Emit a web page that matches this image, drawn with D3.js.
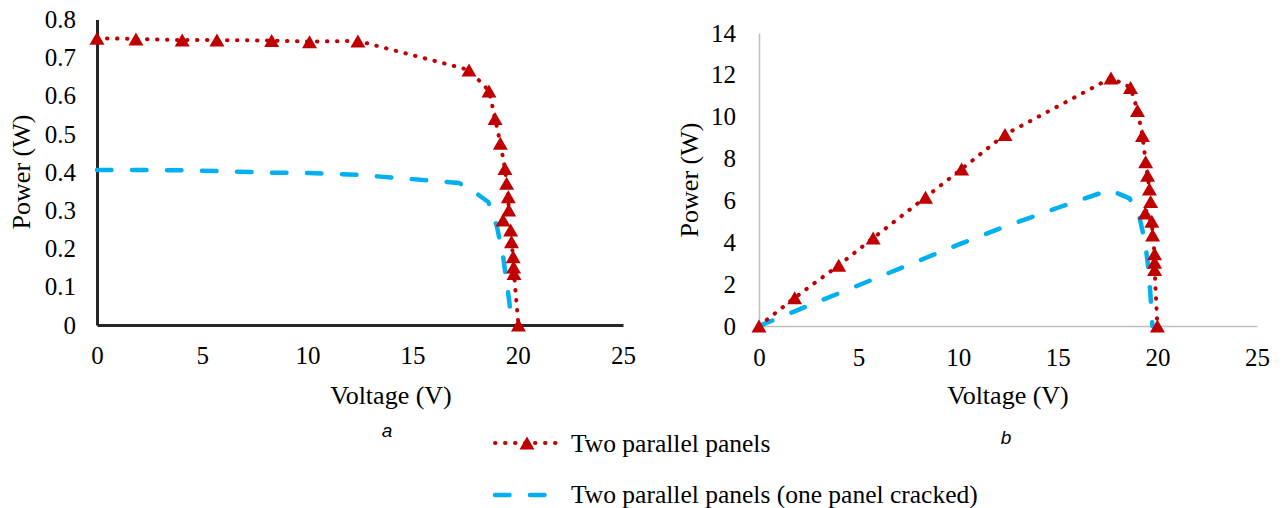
<!DOCTYPE html>
<html>
<head>
<meta charset="utf-8">
<script src="https://cdn.jsdelivr.net/npm/d3@7"></script>
<style>
  body { margin: 0; background: #fff; }
  svg text { font-family: "Liberation Serif", Tinos, "Times New Roman", Times, "DejaVu Serif", serif; fill: #000; }
</style>
</head>
<body>
<svg id="chart" width="1288" height="508"></svg>
<script>
// chart a : small power values
var voltA = [0, 1.85, 4.05, 5.7, 8.3, 10.1, 12.4, 17.68, 18.63, 18.92, 19.17, 19.39, 19.47, 19.55, 19.57, 19.3, 19.66, 19.7, 19.78, 19.8, 19.82, 20.03]
var powA = [0.751, 0.749, 0.746, 0.746, 0.745, 0.742, 0.744, 0.668, 0.613, 0.541, 0.476, 0.41, 0.371, 0.336, 0.301, 0.275, 0.249, 0.218, 0.179, 0.152, 0.135, 0]
var voltACracked = [0, 1.85, 4.05, 5.7, 8.3, 10.1, 12.4, 15.0, 17.2, 17.9, 18.6, 19.0, 19.3, 19.45, 19.6, 19.7]
var powACracked = [0.406, 0.406, 0.405, 0.403, 0.399, 0.398, 0.393, 0.382, 0.372, 0.35, 0.322, 0.26, 0.18, 0.12, 0.06, 0]

// chart b
var voltB = [0, 1.79, 4.0, 5.73, 8.36, 10.17, 12.35, 17.67, 18.65, 19.0, 19.25, 19.41, 19.51, 19.6, 19.66, 19.39, 19.72, 19.76, 19.86, 19.86, 19.86, 20.0]
var powB = [0, 1.35, 2.9, 4.2, 6.15, 7.5, 9.15, 11.85, 11.4, 10.3, 9.1, 7.85, 7.2, 6.55, 5.95, 5.4, 5.0, 4.35, 3.45, 3.05, 2.7, 0]
var voltBCracked = [0, 1.79, 4.0, 5.73, 8.36, 10.17, 12.35, 15.0, 17.6, 18.6, 19.1, 19.4, 19.55, 19.65, 19.75]
var powBCracked = [0, 0.7, 1.56, 2.23, 3.25, 3.95, 4.75, 5.65, 6.5, 6.1, 5.2, 3.9, 2.7, 1.5, 0]

var xTicks = [0, 5, 10, 15, 20, 25]
var yTicksA = [0, 0.1, 0.2, 0.3, 0.4, 0.5, 0.6, 0.7, 0.8]
var yTicksB = [0, 2, 4, 6, 8, 10, 12, 14]

var seriesNames = ["Two parallel panels", "Two parallel panels (one panel cracked)"]

var red = "#c00000", blue = "#00b0f0"
var triangle = "M0,-6.5L7.5,6.5L-7.5,6.5Z"
var serif = "'Liberation Serif', Tinos, 'Times New Roman', Times, 'DejaVu Serif', serif"

var svg = d3.select("#chart")

function zip(xs, ys) {
  return xs.map(function(x, i) { return {v: x, p: ys[i]} })
}

// draw one panel
function drawPanel(opts) {
  var xScale = d3.scaleLinear().domain([0, 25]).range(opts.xRange)
  var yScale = d3.scaleLinear().domain(opts.yDomain).range(opts.yRange)

  var xAxis = svg.append("g")
    .attr("transform", "translate(0," + opts.yRange[0] + ")")
    .call(d3.axisBottom(xScale).tickValues(xTicks).tickSize(0).tickPadding(opts.padX))
  var yAxis = svg.append("g")
    .attr("transform", "translate(" + opts.xRange[0] + ",0)")
    .call(d3.axisLeft(yScale).tickValues(opts.yTicks).tickSize(0).tickPadding(opts.padY)
      .tickFormat(opts.fmt))

  // axis groups carry font attrs, override them
  xAxis.attr("font-family", serif).attr("font-size", 25)
  yAxis.attr("font-family", serif).attr("font-size", 25)
  xAxis.select(".domain").attr("stroke", opts.axisColor).attr("stroke-width", opts.axisWidth)
  yAxis.select(".domain").attr("stroke", opts.axisColor).attr("stroke-width", opts.axisWidth)

  var line = d3.line()
    .x(function(d) { return xScale(d.v) })
    .y(function(d) { return yScale(d.p) })

  svg.append("path")
    .datum(zip(opts.crackV, opts.crackP))
    .attr("fill", "none")
    .attr("stroke", blue)
    .attr("stroke-width", 4.5)
    .attr("stroke-linecap", "round")
    .attr("stroke-dasharray", "14.5,20.5")
    .attr("d", line)

  svg.append("path")
    .datum(zip(opts.v, opts.p))
    .attr("fill", "none")
    .attr("stroke", red)
    .attr("stroke-width", 4)
    .attr("stroke-linecap", "round")
    .attr("stroke-dasharray", "0.5,9.5")
    .attr("d", line)

  svg.append("g").selectAll("path")
    .data(zip(opts.v, opts.p))
    .enter().append("path")
    .attr("d", triangle)
    .attr("fill", red)
    .attr("transform", function(d) { return "translate(" + xScale(d.v) + "," + yScale(d.p) + ")" })

  svg.append("text")
    .attr("transform", "translate(" + opts.yTitle[0] + "," + opts.yTitle[1] + ") rotate(-90)")
    .attr("text-anchor", "middle")
    .attr("dominant-baseline", "central")
    .style("font-size", "26px")
    .text("Power (W)")

  svg.append("text")
    .attr("x", opts.xTitle[0]).attr("y", opts.xTitle[1])
    .attr("text-anchor", "middle")
    .attr("dominant-baseline", "central")
    .style("font-size", "26px")
    .text("Voltage (V)")

  svg.append("text")
    .attr("x", opts.label[0]).attr("y", opts.label[1])
    .attr("text-anchor", "middle")
    .attr("dominant-baseline", "central")
    .style("font-family", "'Liberation Sans', Arial, sans-serif")
    .style("font-style", "italic")
    .style("font-size", "19px")
    .text(opts.name)
}

drawPanel({
  xRange: [97, 623], yRange: [325, 19.5], yDomain: [0, 0.8],
  yTicks: yTicksA, fmt: d3.format(".1~f"), padX: 21, padY: 21,
  axisColor: "#262626", axisWidth: 3,
  v: voltA, p: powA, crackV: voltACracked, crackP: powACracked,
  yTitle: [21, 172], xTitle: [391, 395], label: [387, 430], name: "a"
})

drawPanel({
  xRange: [759, 1257], yRange: [326, 33], yDomain: [0, 14],
  yTicks: yTicksB, fmt: d3.format("d"), padX: 22, padY: 23,
  axisColor: "#bfbfbf", axisWidth: 1.5,
  v: voltB, p: powB, crackV: voltBCracked, crackP: powBCracked,
  yTitle: [689, 180], xTitle: [1008, 395], label: [1006, 437], name: "b"
})

// legend
var legend = svg.append("g")
legend.append("line")
  .attr("x1", 495).attr("x2", 557).attr("y1", 443).attr("y2", 443)
  .attr("stroke", red).attr("stroke-width", 4)
  .attr("stroke-linecap", "round").attr("stroke-dasharray", "0.5,9.5")
legend.append("path").attr("d", triangle).attr("fill", red)
  .attr("transform", "translate(527,443)")
legend.append("line")
  .attr("x1", 495).attr("x2", 545).attr("y1", 495).attr("y2", 495)
  .attr("stroke", blue).attr("stroke-width", 4.5)
  .attr("stroke-linecap", "round").attr("stroke-dasharray", "14.5,20.5")

legend.selectAll("text.leg")
  .data(seriesNames)
  .enter().append("text")
  .attr("class", "leg")
  .attr("x", 571)
  .attr("y", function(d, i) { return 443 + i * 51 })
  .attr("dominant-baseline", "central")
  .style("font-size", "25.5px")
  .text(function(d) { return d })
</script>
</body>
</html>
